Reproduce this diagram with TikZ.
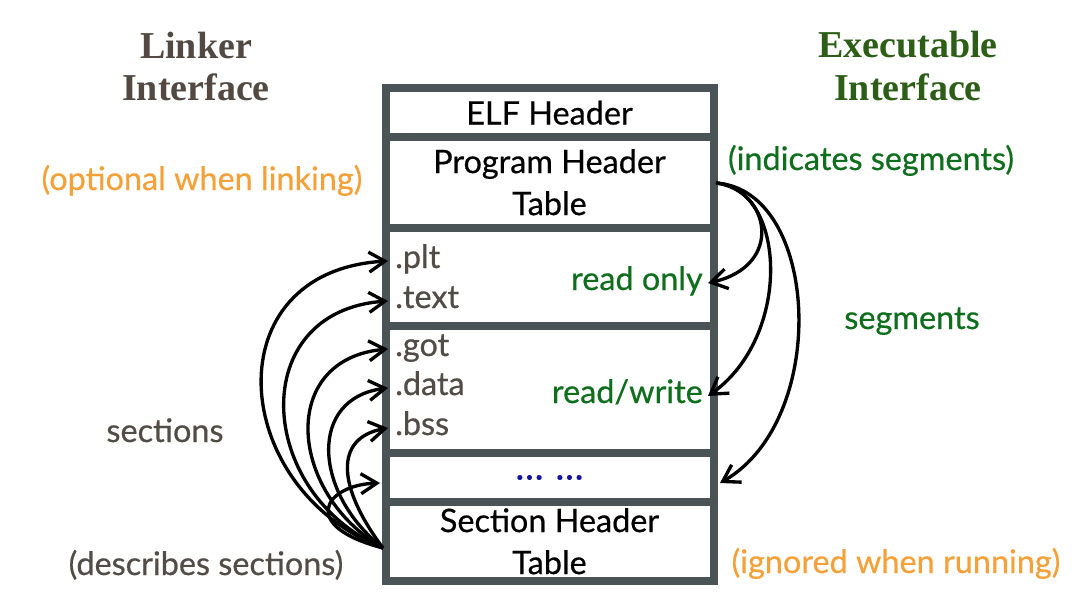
\documentclass[tikz,border=0pt]{standalone}
\usepackage{fontspec}
\setmainfont{Lato}[FakeBold=0.5]
\newfontfamily\titlefont{Liberation Serif}
\usetikzlibrary{arrows.meta}
\definecolor{framegray}{HTML}{4A5355}
\definecolor{linkcol}{HTML}{524A42}
\definecolor{execcol}{HTML}{2D5E17}
\definecolor{orangecol}{HTML}{F4A13A}
\definecolor{greencol}{HTML}{0E6E1C}
\definecolor{graytext}{HTML}{524C47}
\definecolor{dotblue}{HTML}{1414A0}
\tikzset{
  sec/.style={draw=framegray, line width=6pt, fill=white, minimum width=246pt,
    inner sep=0pt, font=\fontsize{24.3}{31.5}\selectfont, align=center, text=black},
  ttl/.style={font=\titlefont\bfseries\fontsize{28.5}{31.5}\selectfont, anchor=base, inner sep=0pt},
  lbl/.style={font=\fontsize{24.3}{28}\selectfont, anchor=base, inner sep=0pt},
  seclbl/.style={font=\fontsize{24.3}{28}\selectfont, text=graytext, inner xsep=5.25pt,
    inner ysep=0pt, text height=15pt, text depth=4.5pt},
  seglbl/.style={font=\fontsize{24.3}{28}\selectfont, text=greencol, inner xsep=3.75pt,
    inner ysep=0pt, text height=15pt, text depth=4.5pt, anchor=base east},
  arr/.style={line width=2.5pt, -{Straight Barb[length=12pt,width=15pt,line width=2.5pt]}},
}
\begin{document}
\begin{tikzpicture}[x=0.75pt,y=-0.75pt]
\useasboundingbox (0,0) rectangle (1092,614);
% the ELF file box
\node[sec, minimum height=36.4pt] (elf) at (549.5,112.75) {ELF Header};
\node[sec, minimum height=67.9pt] (pht) at (549.5,182.25) {Program Header\\Table};
\node[sec, minimum height=73.5pt] (ro) at (549.5,276.5) {};
\node[sec, minimum height=95.6pt] (rw) at (549.5,389.25) {};
\node[sec, minimum height=36.75pt, text=dotblue, font=\fontsize{28}{30}\selectfont] (dots) at (549.5,477.5) {\raisebox{-3pt}{…\hspace{9pt}…}};
\node[sec, minimum height=58.9pt] (sht) at (549.5,541.25) {Section Header\\Table};
% section names
\node[seclbl, anchor=base west] (plt) at (388,268) {.plt};
\node[seclbl, anchor=base west] (text) at (388,308) {.text};
\node[seclbl, anchor=base west] (got) at (388,356) {.got};
\node[seclbl, anchor=base west] (data) at (388,395) {.data};
\node[seclbl, anchor=base west] (bss) at (388,435) {.bss};
% segment names
\node[seglbl] (rolbl) at (708,290) {read only};
\node[seglbl] (rwlbl) at (708,403) {read/write};
% titles and notes
\node[ttl, text=linkcol] (lk1) at (196,58) {Linker};
\node[ttl, text=linkcol] (lk2) at (196,100) {Interface};
\node[ttl, text=execcol] (ex1) at (908,57) {Executable};
\node[ttl, text=execcol] (ex2) at (908,100) {Interface};
\node[lbl, text=orangecol] (opt) at (202,190) {(optional when linking)};
\node[lbl, text=greencol] (ind) at (871,170) {(indicates segments)};
\node[lbl, text=greencol] (segs) at (912,329) {segments};
\node[lbl, text=graytext] (secs) at (165,442) {sections};
\node[lbl, text=graytext] (desc) at (206,575) {(describes sections)};
\node[lbl, text=orangecol] (ign) at (896,573) {(ignored when running)};
% connector end points
\coordinate (s) at (383,548);
\coordinate (r) at (716,183);
\coordinate (dotsL) at (380,483);
\coordinate (dotsR) at (720,483);
% left connectors
\draw[arr] (s) .. controls +(-155,-60) and +(-175,10) .. (plt.west);
\draw[arr] (s) .. controls +(-128,-55) and +(-142,10) .. (text.west);
\draw[arr] (s) .. controls +(-95,-55) and +(-110,10) .. (got.west);
\draw[arr] (s) .. controls +(-70,-55) and +(-80,10) .. (data.west);
\draw[arr] (s) .. controls +(-45,-60) and +(-55,10) .. (bss.west);
\draw[arr] (s) .. controls +(-85,-22) and +(-55,2) .. (dotsL);
% right connectors
\draw[arr] (r) .. controls +(54,7) and +(77,-17) .. (rolbl.east);
\draw[arr] (r) .. controls +(70,5) and +(85,-60) .. (rwlbl.east);
\draw[arr] (r) .. controls +(104,7) and +(110,-63) .. (dotsR);
\end{tikzpicture}
\end{document}
